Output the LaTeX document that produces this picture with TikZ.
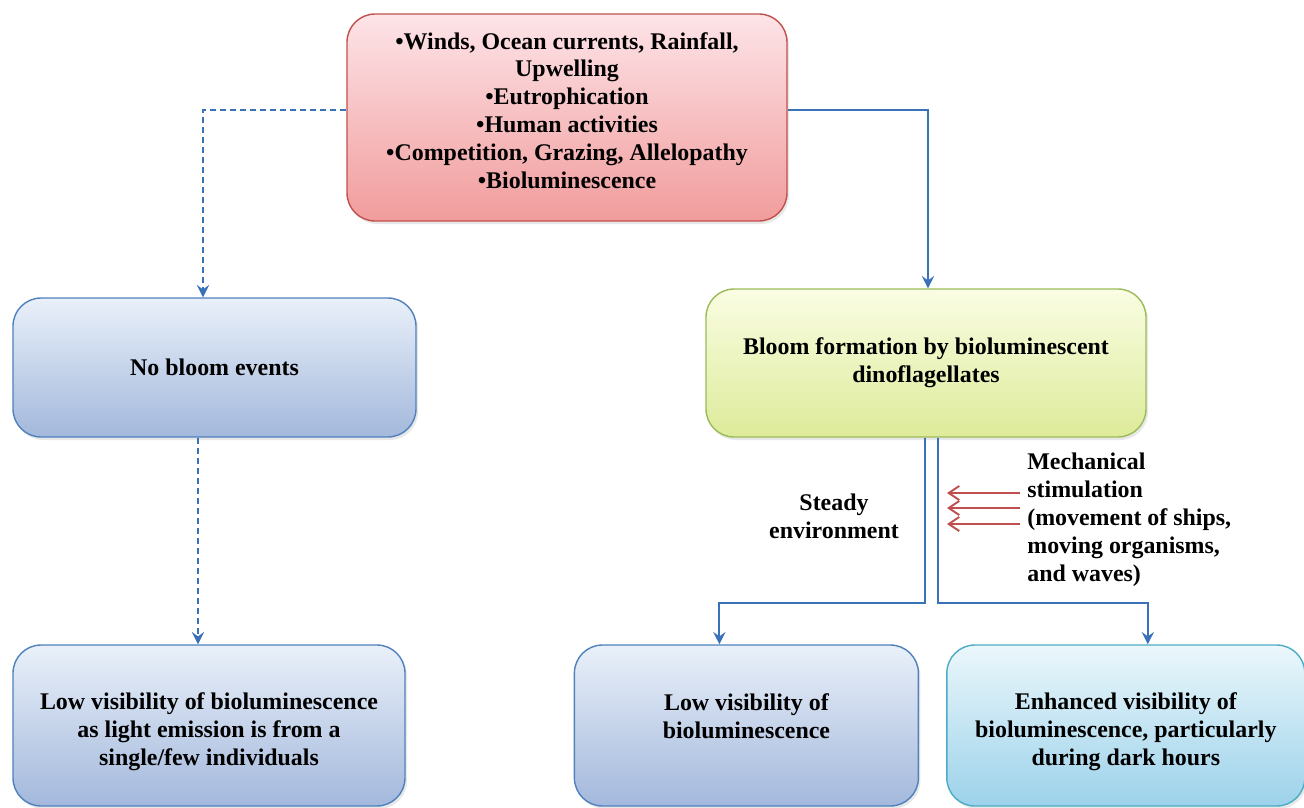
\documentclass[tikz,border=0pt]{standalone}
\usepackage{fontspec}
\setmainfont{Liberation Serif}
\usepackage{tikz}
\usetikzlibrary{arrows.meta,positioning,calc,shadows}

\definecolor{linkblue}{HTML}{3A72B8}
\definecolor{stimred}{HTML}{C0504D}
\definecolor{redtop}{HTML}{FDE4E8}
\definecolor{redbot}{HTML}{F19C9C}
\definecolor{bluetop}{HTML}{E9F0F9}
\definecolor{bluebot}{HTML}{A3B8DC}
\definecolor{bluedraw}{HTML}{4F81BD}
\definecolor{greentop}{HTML}{FAFDE3}
\definecolor{greenbot}{HTML}{DDEB9A}
\definecolor{greendraw}{HTML}{9BBB59}
\definecolor{cyantop}{HTML}{EBF7FB}
\definecolor{cyanbot}{HTML}{9CD2EA}
\definecolor{cyandraw}{HTML}{4BACC6}

\begin{document}
\begin{tikzpicture}[
    box/.style={
        draw=#1, line width=0.8pt, rounded corners=16pt,
        align=center, inner sep=4pt,
        font=\bfseries\fontsize{13.6}{15.9}\selectfont,
        drop shadow={opacity=0.18, shadow xshift=0.04cm, shadow yshift=-0.06cm}
    },
    factor/.style={box=stimred, top color=redtop, bottom color=redbot},
    plain/.style={box=bluedraw, top color=bluetop, bottom color=bluebot},
    bloomstyle/.style={box=greendraw, top color=greentop, bottom color=greenbot},
    glow/.style={box=cyandraw, top color=cyantop, bottom color=cyanbot},
    conn/.style={-{Stealth[length=7pt, width=7pt, inset=2.5pt]}, line width=1.1pt, linkblue},
    dconn/.style={conn, dash pattern=on 3.4pt off 2.3pt},
    stim/.style={-{Straight Barb[length=6pt, width=8pt]}, line width=1.1pt, stimred},
    lbl/.style={font=\bfseries\fontsize{13.6}{15.9}\selectfont, inner sep=0pt}
]
    \useasboundingbox (0,0) rectangle (26.08,-16.16);

    % Drivers at the top
    \node[factor, minimum width=8.8cm, minimum height=4.14cm, text depth=8pt] (drivers) at (11.34,-2.35)
        {•Winds, Ocean currents, Rainfall,\\Upwelling\\•Eutrophication\\•Human activities\\
         •Competition, Grazing, Allelopathy\\•Bioluminescence};

    % Second row
    \node[plain, minimum width=8.06cm, minimum height=2.78cm] (nobloom) at (4.29,-7.35)
        {No bloom events};
    \node[bloomstyle, minimum width=8.8cm, minimum height=2.96cm] (bloom) at (18.52,-7.26)
        {Bloom formation by bioluminescent\\dinoflagellates};

    % Bottom row
    \node[plain, minimum width=7.84cm, minimum height=3.22cm, text height=48pt] (lowleft) at (4.18,-14.51)
        {Low visibility of bioluminescence\\as light emission is from a\\single/few individuals};
    \node[plain, minimum width=6.88cm, minimum height=3.22cm, text depth=11pt, right=3.36cm of lowleft] (lowmid)
        {Low visibility of\\bioluminescence};
    \node[glow, minimum width=7.16cm, minimum height=3.22cm, text height=48pt, right=0.54cm of lowmid] (lowright)
        {Enhanced visibility of\\bioluminescence, particularly\\during dark hours};

    % Branch labels
    \node[lbl, align=center] (steady) at (16.68,-10.32) {Steady\\environment};
    \node[lbl, align=left, anchor=west] (mech) at (20.54,-10.4)
        {Mechanical\\stimulation\\(movement of ships,\\moving organisms,\\and waves)};

    % Connectors
    \draw[dconn] ([yshift=0.15cm]drivers.west) -| ([xshift=-0.23cm]nobloom.north);
    \draw[conn] ([yshift=0.15cm]drivers.east) -| ([xshift=0.04cm]bloom.north);
    \draw[dconn] ([xshift=-0.33cm]nobloom.south) -- ([xshift=-0.33cm]nobloom.south |- lowleft.north);
    \draw[conn] ([xshift=-0.02cm]bloom.south) -- ++(0,-3.3) -| ([xshift=-0.54cm]lowmid.north);
    \draw[conn] ([xshift=0.24cm]bloom.south) -- ++(0,-3.3) -| ([xshift=0.44cm]lowright.north);

    % Stimulation arrows
    \foreach \k/\yy in {1/-9.86, 2/-10.16, 3/-10.48} {
        \coordinate (s\k) at (20.4,\yy);
        \draw[stim] (s\k) -- ++(-1.46,0);
    }
\end{tikzpicture}
\end{document}
